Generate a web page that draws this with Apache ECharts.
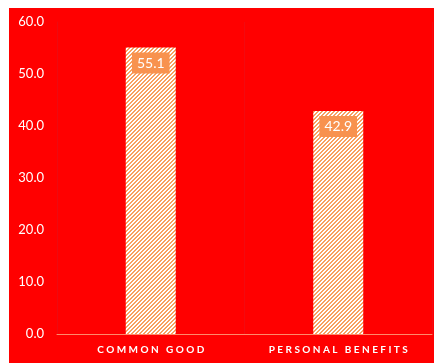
<!DOCTYPE html>
<html><head><meta charset="utf-8">
<script src="https://cdn.jsdelivr.net/npm/echarts@6/dist/echarts.min.js"></script>
<style>
html,body{margin:0;padding:0;background:#fff;width:434px;height:363px;overflow:hidden}
#chart{position:absolute;left:9px;top:8px;width:425px;height:355px;background:#ff0000}
</style></head>
<body><div id="chart"></div>
<script>
const categories = ['COMMON GOOD', 'PERSONAL BENEFITS'];
const values = [55.1, 42.9];
const yMax = 60, yStep = 10;

function spaced(s){ return s.split(' ').map(w => w.split('').join(' ')).join('   '); }

const cv = document.createElement('canvas');
cv.width = 4; cv.height = 4;
const ctx = cv.getContext('2d');
ctx.fillStyle = '#ffffff'; ctx.fillRect(0,0,4,4);
ctx.fillStyle = '#F9A060';
for (let i = 0; i < 4; i++) { ctx.fillRect(i, 3 - i, 1, 1); ctx.fillRect((i+1)%4, 3 - i, 1, 1); }

const chart = echarts.init(document.getElementById('chart'), null, {renderer:'canvas'});
chart.setOption({
  animation:false,
  backgroundColor:'#ff0000',
  grid:{left:48, right:2, top:14, bottom:29, containLabel:false},
  xAxis:{type:'category', data:categories,
    axisLine:{show:true, lineStyle:{color:'#FF8A6A', width:1}},
    axisTick:{show:false},
    splitLine:{show:true, lineStyle:{color:'#F20A10', width:1}},
    axisLabel:{color:'#fff', fontFamily:'Lato', fontWeight:'bold', fontSize:10, margin:11, formatter:v=>spaced(v)}},
  yAxis:{type:'value', min:0, max:yMax, interval:yStep,
    axisLine:{show:true, lineStyle:{color:'#EE0A10'}},
    axisTick:{show:false},
    splitLine:{show:false},
    axisLabel:{color:'#fff', fontFamily:'Lato', fontSize:13, margin:13, formatter:v=>v.toFixed(1)}},
  series:[{type:'bar', data:values, barWidth:50,
    itemStyle:{color:{image:cv, repeat:'repeat'}},
    label:{show:true, position:'insideTop', distance:5, color:'#fff', fontFamily:'Lato', fontSize:14,
      backgroundColor:'#F8924F', padding:[4,5,3,5], formatter:p=>p.value.toFixed(1)}}]
});
</script></body></html>
